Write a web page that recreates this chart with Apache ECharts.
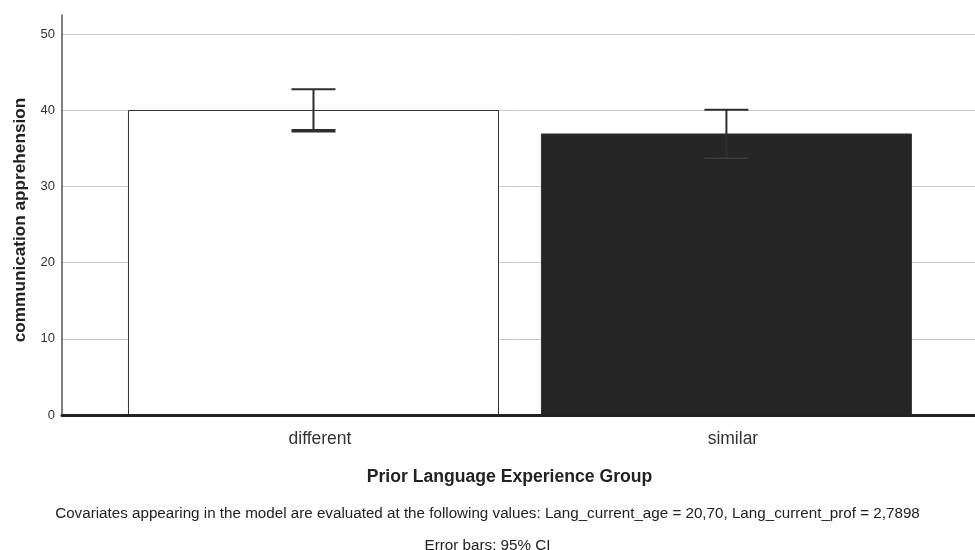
<!DOCTYPE html>
<html>
<head>
<meta charset="utf-8">
<script src="https://cdn.jsdelivr.net/npm/echarts@6/dist/echarts.min.js"></script>
<style>
  html, body { margin: 0; padding: 0; background: #fff; }
  #chart { width: 975px; height: 550px; }
</style>
</head>
<body>
<div id="chart"></div>
<script>
// estimated marginal means with 95% CI
const groups = ['different', 'similar'];
const means = [40.03, 36.95];
const ciLow = [37.3, 33.7];
const ciHigh = [42.75, 40.05];
const yTicks = [0, 10, 20, 30, 40, 50];

const footnotes = [
    'Covariates appearing in the model are evaluated at the following values: Lang_current_age = 20,70, Lang_current_prof = 2,7898',
    'Error bars: 95% CI'
];

const font = '"Liberation Sans", Arial, sans-serif';

const barData = [];
const errData = [];
for (var i = 0; i < groups.length; i++) {
    barData.push({
        value: [i + 1, means[i]],
        itemStyle: i === 0 ? { color: '#ffffff' } : { color: '#252525' }
    });
    errData.push([i + 1, ciLow[i], ciHigh[i]]);
}

const myChart = echarts.init(document.getElementById('chart'));
myChart.setOption({
    animation: false,
    textStyle: { fontFamily: font },
    title: [
        {
            text: footnotes[0], left: 'center', top: 501,
            textStyle: { fontFamily: font, fontSize: 15.2, fontWeight: 'normal', color: '#222' }
        },
        {
            text: footnotes[1], left: 'center', top: 533,
            textStyle: { fontFamily: font, fontSize: 15.2, fontWeight: 'normal', color: '#222' }
        }
    ],
    grid: { left: 62, right: 0, top: 15, bottom: 135 },
    xAxis: {
        type: 'value',
        min: 0.391,
        max: 2.602,
        z: 5,
        name: 'Prior Language Experience Group',
        nameLocation: 'middle',
        nameGap: 53,
        nameTextStyle: {
            fontFamily: font, fontSize: 17.6, fontWeight: 'bold', color: '#222',
            padding: [0, 18, 0, 0]
        },
        axisLine: { show: true, lineStyle: { color: '#222', width: 3 } },
        axisTick: { show: false },
        splitLine: { show: false },
        axisLabel: {
            customValues: [1, 2],
            margin: 15,
            fontSize: 17.5,
            color: '#333',
            padding: [0, 0, 0, 13],
            formatter: function (v) { return groups[Math.round(v) - 1] || ''; }
        }
    },
    yAxis: {
        type: 'value',
        min: 0,
        max: 52.5,
        interval: 10,
        name: 'communication apprehension',
        nameLocation: 'middle',
        nameGap: 33,
        nameTextStyle: {
            fontFamily: font, fontSize: 17.2, fontWeight: 'bold', color: '#222',
            padding: [0, 10, 0, 0]
        },
        axisLine: { show: true, lineStyle: { color: '#555', width: 1.5 } },
        axisTick: { show: false },
        axisLabel: {
            customValues: yTicks,
            margin: 7,
            fontSize: 13,
            color: '#333'
        },
        splitLine: { show: true, showMaxLine: false, lineStyle: { color: '#c8c8c8', width: 1 } }
    },
    series: [
        {
            type: 'bar',
            barWidth: 371,
            data: barData,
            itemStyle: { borderColor: '#333', borderWidth: 1 }
        },
        {
            type: 'custom',
            z: 4,
            data: errData,
            renderItem: function (params, api) {
                const x = api.value(0);
                const lo = api.coord([x, api.value(1)]);
                const hi = api.coord([x, api.value(2)]);
                const half = 22;
                const idx = params.dataIndex;
                const col = '#2e2e2e';
                return {
                    type: 'group',
                    children: [
                        { type: 'line', shape: { x1: hi[0], y1: hi[1], x2: lo[0], y2: lo[1] },
                          style: { stroke: col, lineWidth: 2 } },
                        { type: 'line', shape: { x1: hi[0] - half, y1: hi[1], x2: hi[0] + half, y2: hi[1] },
                          style: { stroke: col, lineWidth: 2 } },
                        { type: 'line', shape: { x1: lo[0] - half, y1: lo[1], x2: lo[0] + half, y2: lo[1] },
                          style: { stroke: idx === 0 ? col : '#3c3c3c', lineWidth: idx === 0 ? 3.5 : 1.5 } }
                    ]
                };
            }
        }
    ]
});
</script>
</body>
</html>
